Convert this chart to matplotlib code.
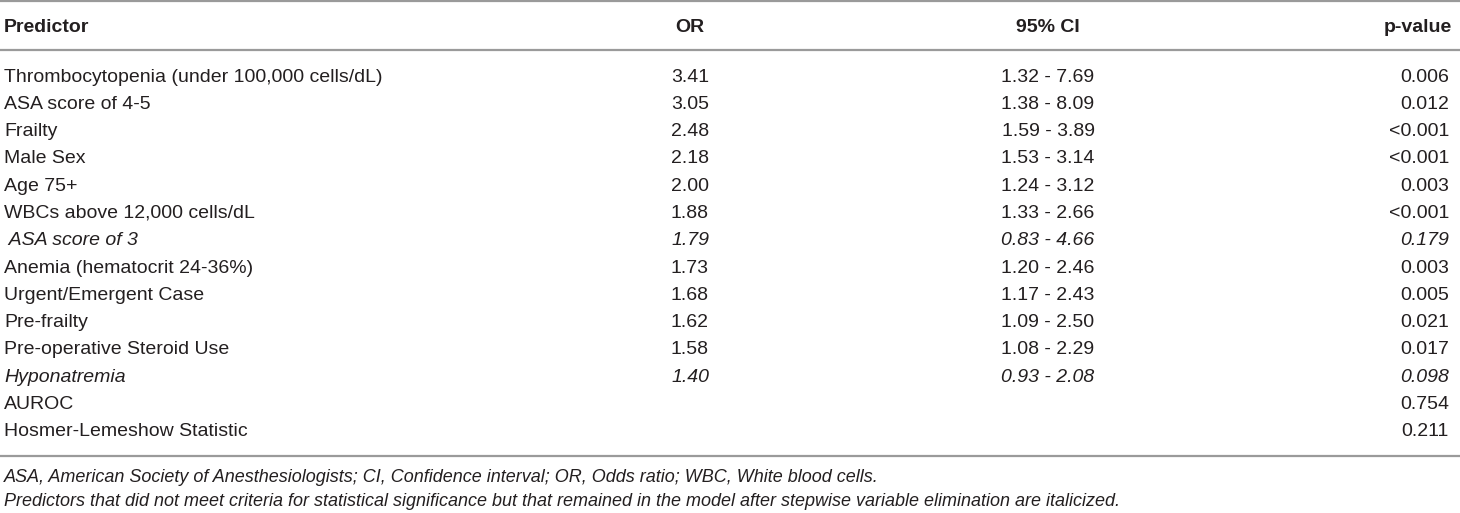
import matplotlib
matplotlib.use("Agg")
import matplotlib.pyplot as plt

# Table contents
headers = ["Predictor", "OR", "95% CI", "p-value"]
predictors = [
    "Thrombocytopenia (under 100,000 cells/dL)",
    "ASA score of 4-5",
    "Frailty",
    "Male Sex",
    "Age 75+",
    "WBCs above 12,000 cells/dL",
    " ASA score of 3",
    "Anemia (hematocrit 24-36%)",
    "Urgent/Emergent Case",
    "Pre-frailty",
    "Pre-operative Steroid Use",
    "Hyponatremia",
    "AUROC",
    "Hosmer-Lemeshow Statistic",
]
odds_ratios = ["3.41", "3.05", "2.48", "2.18", "2.00", "1.88", "1.79",
               "1.73", "1.68", "1.62", "1.58", "1.40", "", ""]
conf_int = ["1.32 - 7.69", "1.38 - 8.09", "1.59 - 3.89", "1.53 - 3.14",
            "1.24 - 3.12", "1.33 - 2.66", "0.83 - 4.66", "1.20 - 2.46",
            "1.17 - 2.43", "1.09 - 2.50", "1.08 - 2.29", "0.93 - 2.08", "", ""]
p_values = ["0.006", "0.012", "<0.001", "<0.001", "0.003", "<0.001", "0.179",
            "0.003", "0.005", "0.021", "0.017", "0.098", "0.754", "0.211"]
italic_rows = [6, 11]
footnotes = [
    "ASA, American Society of Anesthesiologists; CI, Confidence interval; "
    "OR, Odds ratio; WBC, White blood cells.",
    "Predictors that did not meet criteria for statistical significance but "
    "that remained in the model after stepwise variable elimination are italicized.",
]

plt.rcParams["font.family"] = ["Liberation Sans", "DejaVu Sans"]
text_color = "#231f20"
rule_color = "#9a9a9a"
fs = 14

W, H = 1460, 513
fig = plt.figure(figsize=(W / 100, H / 100), dpi=100)
ax = fig.add_axes([0, 0, 1, 1])
ax.set_xlim(0, W)
ax.set_ylim(H, 0)
ax.axis("off")

# column anchors (x, alignment)
cols = [(4, "left"), (690, "center"), (1048, "center"), (1449, "right")]

# horizontal rules
for y in [1, 50, 456]:
    ax.axhline(y, color=rule_color, lw=1.6)

# header
for (x, ha), h in zip(cols, headers):
    xx = x + 3 if ha == "right" else x
    ax.text(xx, 27, h, ha=ha, va="center", fontsize=fs, fontweight="bold",
            color=text_color)

# body rows
y0, dy = 77, 27.3
for i, row in enumerate(zip(predictors, odds_ratios, conf_int, p_values)):
    style = "italic" if i in italic_rows else "normal"
    y = y0 + i * dy
    for (x, ha), val in zip(cols, row):
        ax.text(x, y, val, ha=ha, va="center", fontsize=fs, style=style,
                color=text_color)

# footnotes
for j, note in enumerate(footnotes):
    ax.text(4, 478 + j * 24, note, ha="left", va="center", fontsize=13,
            style="italic", color=text_color)

plt.savefig("out.png", dpi=100)
